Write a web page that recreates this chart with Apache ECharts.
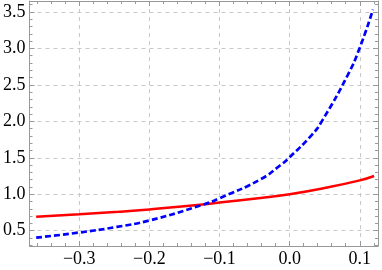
<!DOCTYPE html>
<html><head><meta charset="utf-8">
<script src="https://cdn.jsdelivr.net/npm/echarts@6/dist/echarts.min.js"></script>
<style>html,body{margin:0;padding:0;background:#fff}#c{width:382px;height:270px}</style>
</head><body><div id="c"></div>
<script>
// Data
const redX  = [-0.3615, -0.3, -0.244, -0.2, -0.124, -0.1, -0.0415, 0.0, 0.048, 0.1, 0.1205];
const redY  = [0.692, 0.726, 0.76, 0.792, 0.858, 0.886, 0.948, 1.0, 1.082, 1.19, 1.25];
const blueX = [-0.3615, -0.3, -0.2465, -0.2, -0.124, -0.1, -0.0415, -0.013, 0.0, 0.0317, 0.0458, 0.0826, 0.1, 0.1188];
const blueY = [0.404, 0.475, 0.552, 0.64, 0.855, 0.945, 1.205, 1.40, 1.508, 1.815, 2.0, 2.63, 3.01, 3.532];
const xTicks = [-0.3, -0.2, -0.1, 0.0, 0.1];
const xMinorTicks = [-0.36, -0.34, -0.32, -0.28, -0.26, -0.24, -0.22, -0.18, -0.16, -0.14, -0.12, -0.08, -0.06, -0.04, -0.02, 0.02, 0.04, 0.06, 0.08, 0.12];
const yTicks = [0.5, 1.0, 1.5, 2.0, 2.5, 3.0, 3.5];
const yMinorTicks = [0.3, 0.4, 0.6, 0.7, 0.8, 0.9, 1.1, 1.2, 1.3, 1.4, 1.6, 1.7, 1.8, 1.9, 2.1, 2.2, 2.3, 2.4, 2.6, 2.7, 2.8, 2.9, 3.1, 3.2, 3.3, 3.4, 3.6];
const xRange = [-0.371, 0.126];
const yRange = [0.29, 3.651];

const AX = '#999';
const fmt = v => (v < 0 ? '\u2212' : '') + Math.abs(v).toFixed(1);
const lbl = {fontFamily: '"Liberation Serif", "DejaVu Serif", serif', fontSize: 18, color: '#000'};

function mkAxis(pos, range, major, minor, withLabels, isMinor) {
  const ticks = isMinor ? minor : major;
  return {
    type: 'value', position: pos, min: range[0], max: range[1],
    axisLine: {show: !isMinor, onZero: false, lineStyle: {color: AX, width: 1}},
    axisTick: {show: true, inside: true, length: isMinor ? 3 : 5, customValues: ticks, lineStyle: {color: AX, width: 1}},
    axisLabel: withLabels ? Object.assign({show: true, customValues: major, formatter: fmt, margin: 4}, lbl) : {show: false},
    splitLine: {show: withLabels, lineStyle: {color: '#c8c8c8', width: 1, type: [4, 4]}},
    minorTick: {show: false}, minorSplitLine: {show: false}
  };
}

const chart = echarts.init(document.getElementById('c'), null, {renderer: 'canvas'});
chart.setOption({
  animation: false,
  backgroundColor: '#fff',
  grid: {left: 27, right: 4, top: 1, bottom: 24},
  xAxis: [
    mkAxis('bottom', xRange, xTicks, xMinorTicks, true, false),
    mkAxis('bottom', xRange, xTicks, xMinorTicks, false, true),
    mkAxis('top', xRange, xTicks, xMinorTicks, false, false),
    mkAxis('top', xRange, xTicks, xMinorTicks, false, true)
  ],
  yAxis: [
    mkAxis('left', yRange, yTicks, yMinorTicks, true, false),
    mkAxis('left', yRange, yTicks, yMinorTicks, false, true),
    mkAxis('right', yRange, yTicks, yMinorTicks, false, false),
    mkAxis('right', yRange, yTicks, yMinorTicks, false, true)
  ],
  series: [
    {type: 'line', xAxisIndex: 0, yAxisIndex: 0, showSymbol: false, smooth: 0.5,
     data: redX.map((x, i) => [x, redY[i]]),
     lineStyle: {color: '#ff0000', width: 2.5}, z: 3},
    {type: 'line', xAxisIndex: 0, yAxisIndex: 0, showSymbol: false, smooth: 0.5,
     data: blueX.map((x, i) => [x, blueY[i]]),
     lineStyle: {color: '#0000ff', width: 2.7, type: [6, 3]}, z: 4}
  ]
});
</script></body></html>
